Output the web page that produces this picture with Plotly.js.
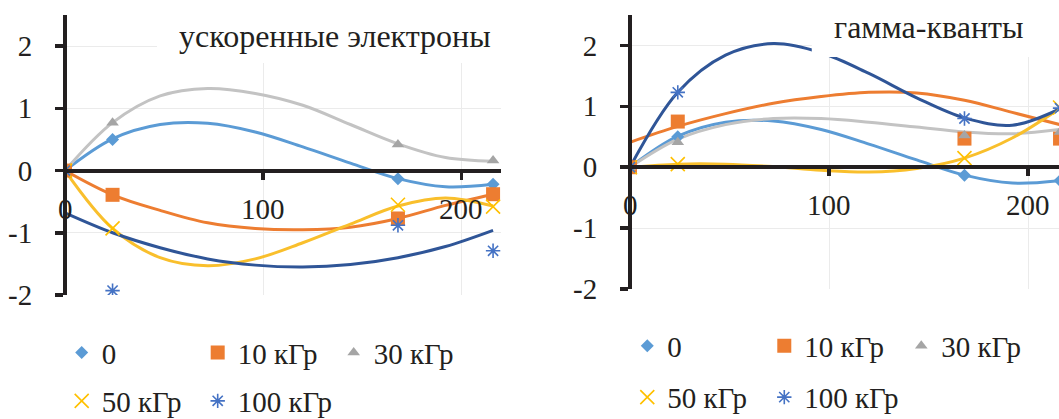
<!DOCTYPE html>
<html><head><meta charset="utf-8">
<script src="https://cdn.plot.ly/plotly-3.0.1.min.js"></script>
<style>
html,body{margin:0;padding:0;overflow:hidden;background:#fff;width:1059px;height:419px;position:relative;}
#left{position:absolute;left:0;top:0;width:530px;height:419px;}
#right{position:absolute;left:560px;top:0;width:540px;height:419px;}
</style></head><body>
<div id="left"></div><div id="right"></div>
<script>
// ---- data ----
const seriesNames = ['0', '10 кГр', '30 кГр', '50 кГр', '100 кГр'];
const xPoints = [0, 24, 168, 216];
const xTicks = [0, 100, 200];
const yTicks = [-2, -1, 0, 1, 2];

// measured points (both panels share the control series "0")
const ctrlY = [0, 0.50, -0.13, -0.22];
const elec10Y = [0, -0.39, -0.77, -0.38];
const elec30Y = [0, 0.77, 0.42, 0.16];
const elec50Y = [0, -0.93, -0.55, -0.58];
const elec100Y = [0, -1.93, -0.88, -1.29];

const gamma10Y = [0, 0.75, 0.47, 0.47];
const gamma30Y = [0, 0.41, 0.52, 0.58];
const gamma50Y = [0, 0.05, 0.15, 0.98];
const gamma100Y = [0, 1.23, 0.80, 0.97];

// trend lines
const trendX = [0, 24, 48, 72, 96, 120, 144, 168, 192, 216];
const ctrlTrend = [0, 0.51, 0.74, 0.76, 0.62, 0.38, 0.12, -0.13, -0.26, -0.22];
const elec10Trend = [0, -0.39, -0.64, -0.84, -0.93, -0.95, -0.91, -0.77, -0.56, -0.38];
const elec30Trend = [0, 0.77, 1.20, 1.32, 1.24, 1.05, 0.74, 0.43, 0.21, 0.15];
const elec50Trend = [0, -0.93, -1.40, -1.53, -1.42, -1.16, -0.86, -0.57, -0.44, -0.57];
const elec100Trend = [-0.68, -1.00, -1.24, -1.42, -1.52, -1.55, -1.51, -1.40, -1.22, -0.96];

const gamma10Trend = [0.41, 0.67, 0.88, 1.05, 1.16, 1.23, 1.22, 1.10, 0.90, 0.70];
const gamma30Trend = [0, 0.46, 0.70, 0.80, 0.80, 0.74, 0.66, 0.58, 0.55, 0.62];
const gamma50Trend = [0, 0.05, 0.05, 0.01, -0.05, -0.08, -0.02, 0.15, 0.48, 0.97];
const gamma100Trend = [0, 1.23, 1.84, 2.03, 1.88, 1.54, 1.14, 0.81, 0.69, 0.96];

// ---- styles ----
const FONT = 'Liberation Serif, "Times New Roman", serif';
const INK = '#231F20';
const markerColors = ['#5B9BD5', '#ED7D31', '#A5A5A5', '#FFC000', '#4472C4'];
const lineColors = ['#5B9BD5', '#ED7D31', '#C3C3C3', '#F9BF2C', '#2F5597'];
const markerStyles = [
  {symbol: 'diamond', size: 10},
  {symbol: 'square', size: 14},
  {symbol: 'triangle-up', size: 11},
  {symbol: 'x-thin-open', size: 14, line: {width: 1.6}},
  {symbol: 'asterisk-open', size: 12, line: {width: 1.6}}
];

function buildTraces(pointsList, trendList) {
  const traces = [];
  trendList.forEach((ys, i) => {
    traces.push({x: trendX, y: ys, mode: 'lines', line: {color: lineColors[i], width: 3, shape: 'spline', smoothing: 1},
      showlegend: false, hoverinfo: 'skip'});
  });
  pointsList.forEach((ys, i) => {
    const ms = Object.assign({color: markerColors[i]}, markerStyles[i]);
    if (ms.line) ms.line = Object.assign({color: markerColors[i]}, ms.line);
    traces.push({x: xPoints, y: ys, mode: 'markers', name: seriesNames[i], marker: ms,
      legend: i < 3 ? 'legend' : 'legend2', cliponaxis: true});
  });
  return traces;
}

function axisStyle(extra) {
  return Object.assign({
    showgrid: true, gridcolor: '#EBEBEB', gridwidth: 1, zeroline: false,
    showline: true, linecolor: INK, linewidth: 4,
    ticks: 'outside', tickcolor: INK, tickwidth: 3.5,
    tickfont: {family: FONT, size: 29, color: INK}, fixedrange: true
  }, extra);
}

function legendStyle(x, y, ew) {
  return {orientation: 'h', xref: 'container', yref: 'container', x: x, y: y,
    xanchor: 'left', yanchor: 'middle', entrywidth: ew, bgcolor: 'rgba(0,0,0,0)',
    font: {family: FONT, size: 29, color: INK}, itemclick: false, itemdoubleclick: false};
}

// x tick labels placed through the x scale, just below the axis that crosses at y = 0
function xTickLabels() {
  return xTicks.map(v => ({text: String(v), xref: 'x', yref: 'y', x: v, y: 0,
    xanchor: 'center', yanchor: 'top', yshift: -20, showarrow: false,
    font: {family: FONT, size: 29, color: INK}}));
}

function makeLayout(p) {
  return {
    width: p.w, height: 419,
    margin: {l: p.l, r: p.r, t: p.t, b: p.b},
    paper_bgcolor: '#fff', plot_bgcolor: '#fff',
    font: {family: FONT, size: 29, color: INK},
    xaxis: axisStyle({range: [0, 220], tickvals: xTicks, showticklabels: false,
      anchor: 'free', position: 2 / 4.5, ticklen: 7}),
    yaxis: axisStyle({range: [-2, 2.5], tickvals: yTicks, ticktext: yTicks.map(String),
      anchor: 'free', position: 0, ticklen: 8, ticklabelstandoff: 17}),
    legend: legendStyle(p.lx, p.ly1, p.ew),
    legend2: legendStyle(p.lx, p.ly2, p.ew),
    shapes: [{type: 'rect', xref: 'paper', yref: 'paper', x0: p.bx0, x1: 1.2, y0: p.by0, y1: 1.3,
      fillcolor: '#fff', line: {width: 0}, layer: 'above'}],
    annotations: [{text: p.title, xref: 'paper', yref: 'paper', x: p.tx, y: p.ty,
      xanchor: 'left', yanchor: 'middle', showarrow: false, font: {family: FONT, size: 32, color: INK}}]
      .concat(xTickLabels())
  };
}

const cfg = {staticPlot: true, displayModeBar: false};

Plotly.newPlot('left',
  buildTraces([ctrlY, elec10Y, elec30Y, elec50Y, elec100Y],
              [ctrlTrend, elec10Trend, elec30Trend, elec50Trend, elec100Trend]),
  makeLayout({w: 530, l: 65, r: 29, t: 15, b: 124, lx: 0.1164, ly1: 0.1582, ly2: 0.043, ew: 91,
    bx0: 0.211, by0: 0.8286, title: 'ускоренные электроны', tx: 0.257, ty: 0.9254}),
  cfg);

Plotly.newPlot('right',
  buildTraces([ctrlY, gamma10Y, gamma30Y, gamma50Y, gamma100Y],
              [ctrlTrend, gamma10Trend, gamma30Trend, gamma50Trend, gamma100Trend]),
  makeLayout({w: 540, l: 70, r: 31.5, t: 15, b: 130, lx: 0.1246, ly1: 0.1742, ly2: 0.0518, ew: 92,
    bx0: 0.415, by0: 0.8467, title: 'гамма-кванты', tx: 0.461, ty: 0.9547}),
  cfg);
</script>
</body></html>
